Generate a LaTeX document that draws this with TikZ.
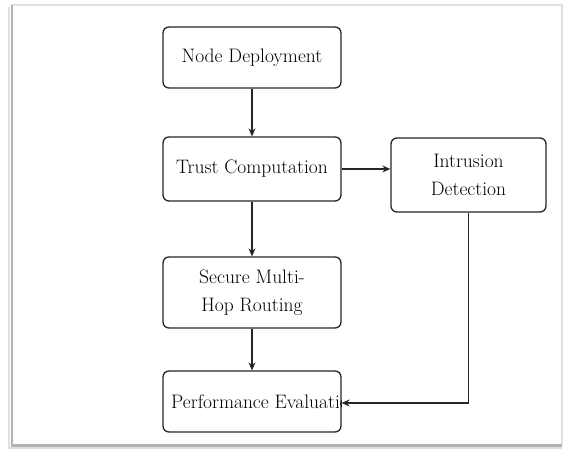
\documentclass[tikz,border=0pt]{standalone}
\usepackage{fontspec}
\setmainfont{Latin Modern Roman}
\usetikzlibrary{arrows.meta}
\begin{document}
\begin{tikzpicture}[x=1pt,y=-1pt,
  box/.style={draw=black!85, line width=1.3pt, rounded corners=6pt, fill=white,
    align=center, inner sep=0pt, font=\fontsize{19.5}{28.5}\selectfont},
  conn/.style={draw=black!85, line width=1.1pt, -{Stealth[length=8pt,width=7pt]}},
  lbl/.style={font=\fontsize{19.5}{28.5}\selectfont, inner sep=0pt}]
\useasboundingbox (0,0) rectangle (565,454);
% frame with shadow
\fill[white] (11,5) rectangle (562,445);
\draw[black!12, line width=1.5pt] (11,5) -- (562,5) -- (562,445);
\draw[black!30, line width=2.5pt] (12,5) -- (12,445.5) -- (562,445.5);
\draw[black!12, line width=2pt] (9,7) -- (9,448) -- (562,448);
% nodes
\node[box, minimum width=178pt, minimum height=61pt] (nd) at (252,57.5) {Node Deployment};
\node[box, minimum width=178pt, minimum height=64pt] (tc) at (252,169) {Trust Computation};
\node[box, minimum width=178pt, minimum height=71pt] (smr) at (252,292.5) {Secure Multi-\\Hop Routing};
\node[box, minimum width=178pt, minimum height=61pt] (pe) at (252,401.5) {};
\node[box, minimum width=155pt, minimum height=74pt] (id) at (468.5,175) {Intrusion\\Detection};
\begin{scope}
  \clip (pe.south west) rectangle (pe.north east);
  \node[lbl, anchor=west] (pelbl) at (171,401.5) {Performance Evaluation};
\end{scope}
% connectors
\draw[conn] (nd) -- (tc);
\draw[conn] (tc) -- (smr);
\draw[conn] (smr) -- (pe);
\draw[conn] (tc.east) -- (tc.east -| id.west);
\coordinate (corner) at (id.south |- 0,403);
\draw[conn] (id.south) -- (corner) -- (corner -| pe.east);
\end{tikzpicture}
\end{document}
